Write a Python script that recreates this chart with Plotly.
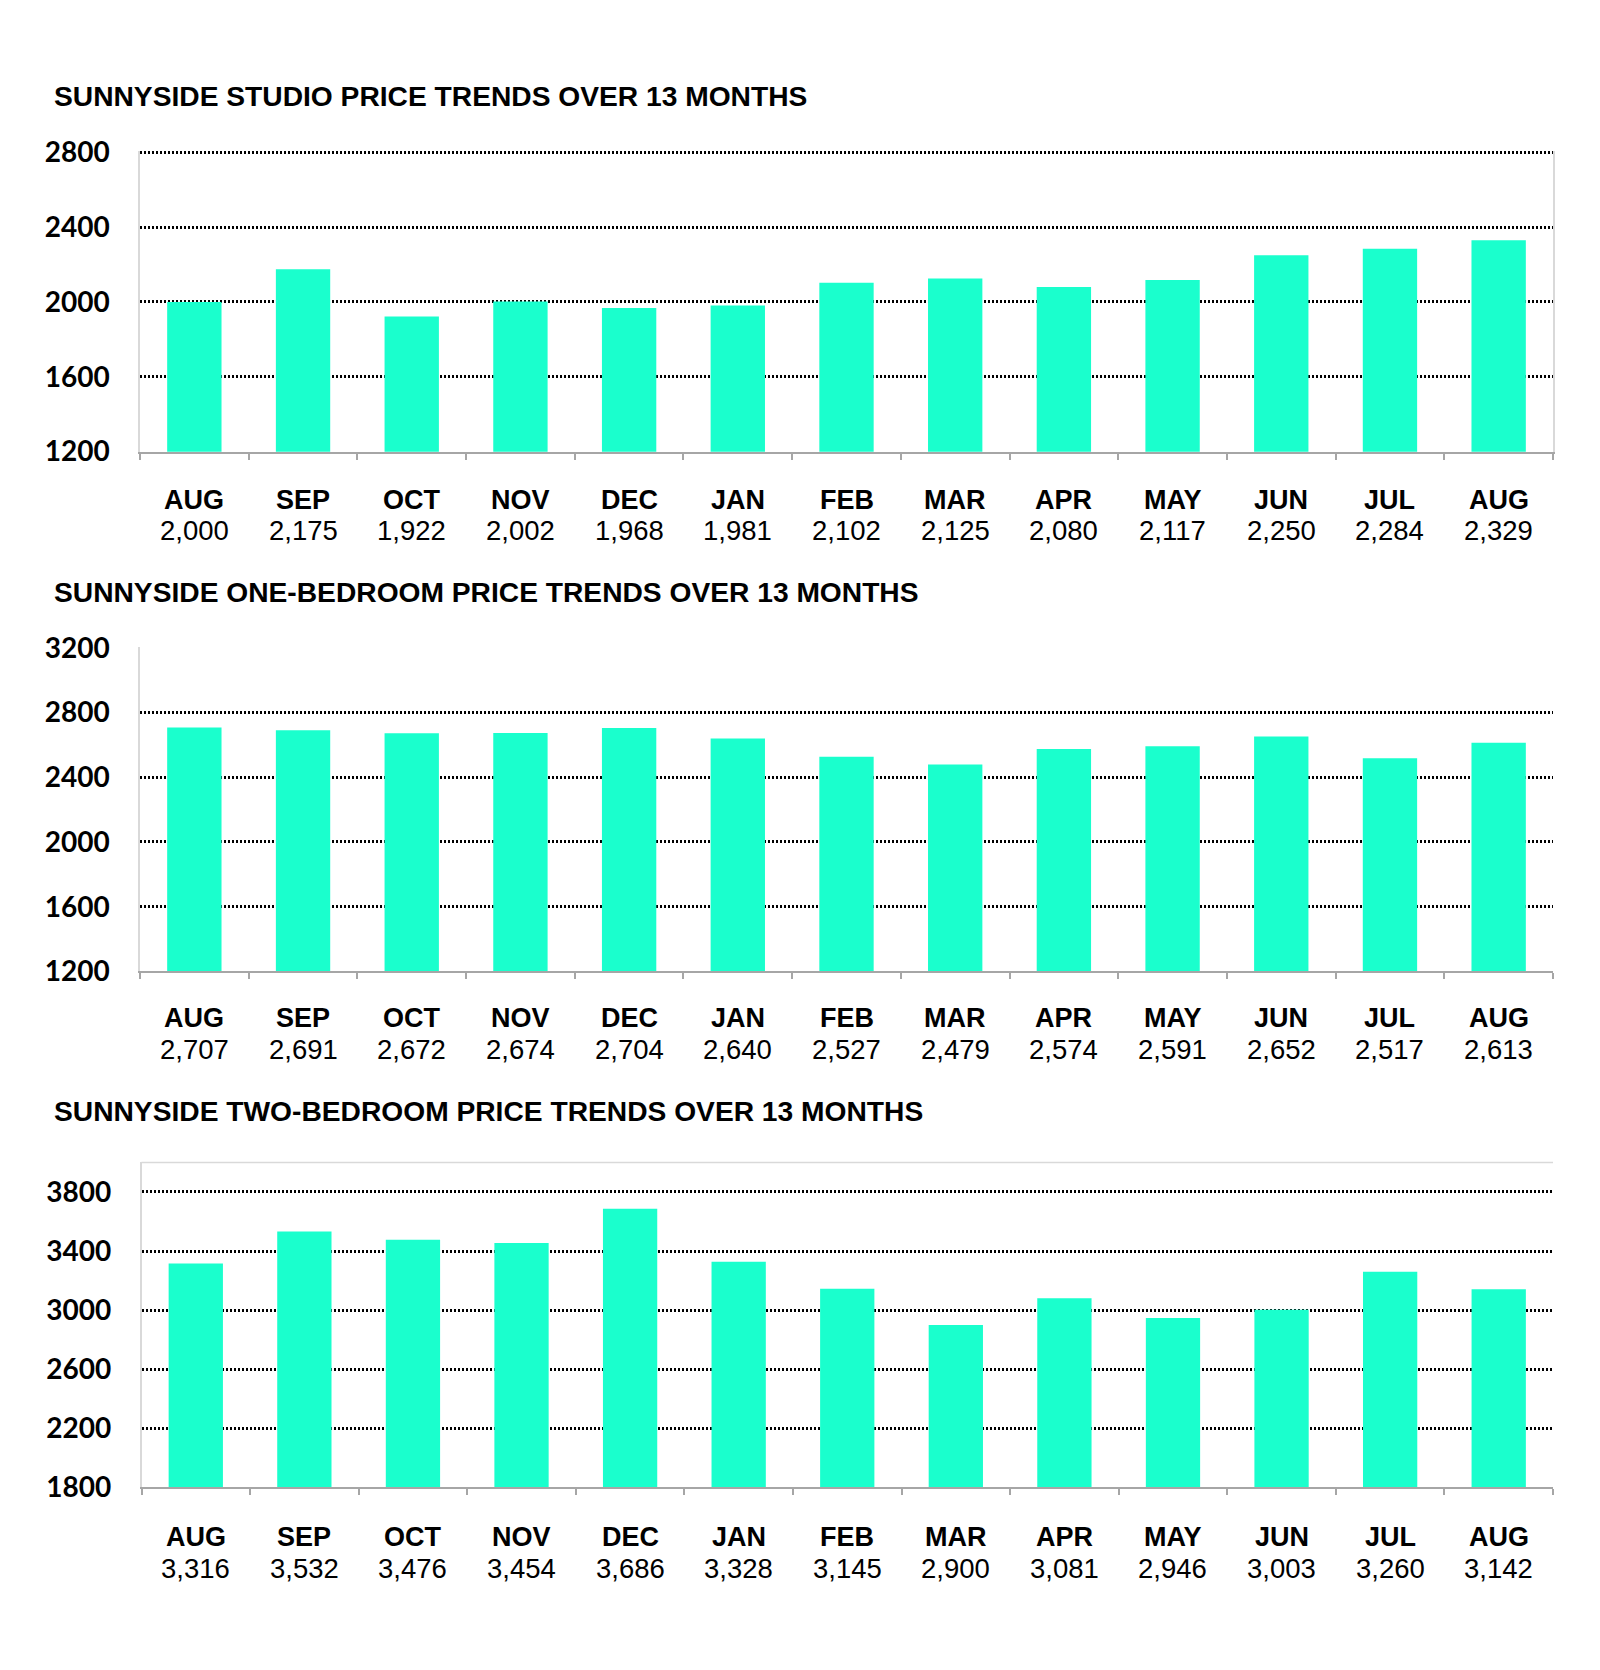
import plotly.graph_objects as go

months = ["AUG", "SEP", "OCT", "NOV", "DEC", "JAN", "FEB", "MAR", "APR", "MAY", "JUN", "JUL", "AUG"]
studio = [2000, 2175, 1922, 2002, 1968, 1981, 2102, 2125, 2080, 2117, 2250, 2284, 2329]
one_bed = [2707, 2691, 2672, 2674, 2704, 2640, 2527, 2479, 2574, 2591, 2652, 2517, 2613]
two_bed = [3316, 3532, 3476, 3454, 3686, 3328, 3145, 2900, 3081, 2946, 3003, 3260, 3142]
titles = [
    "SUNNYSIDE STUDIO PRICE TRENDS OVER 13 MONTHS",
    "SUNNYSIDE ONE-BEDROOM PRICE TRENDS OVER 13 MONTHS",
    "SUNNYSIDE TWO-BEDROOM PRICE TRENDS OVER 13 MONTHS",
]
y_ranges = [(1200, 2806), (1200, 3206), (1800, 4000)]
y_tick0 = [1200, 1200, 1800]

W, H = 1600, 1670
BAR = "#1AFFCD"
ARIAL = "Liberation Sans, Arial, sans-serif"
# plot area pixel boxes (left, top, right, bottom)
boxes = [(140, 136.8, 1553, 443.4), (140, 642.5, 1553, 973.7), (141.5, 1168.5, 1553, 1500)]
title_y = [81, 587.1, 1116.3]
label_off = [(48, 78.5), (47, 78.5), (50, 81.5)]

fig = go.Figure()
series = [studio, one_bed, two_bed]
xs = list(range(len(months)))
annotations = []
shapes = []
for i, (vals, title, yr, box, ty, lo) in enumerate(zip(series, titles, y_ranges, boxes, title_y, label_off)):
    n = "" if i == 0 else str(i + 1)
    xa, ya = "x" + n, "y" + n
    fig.add_trace(go.Bar(x=xs, y=vals, width=0.5, marker=dict(color=BAR, line=dict(width=0)),
                         xaxis=xa, yaxis=ya, showlegend=False, hoverinfo="y"))
    l, t, r, b = box
    fig.layout["xaxis" + n] = dict(
        domain=[l / W, r / W], range=[-0.5, len(months) - 0.5], anchor=ya,
        showgrid=False, zeroline=False, showticklabels=False,
        tickmode="array", tickvals=[k - 0.5 for k in range(len(months) + 1)],
        ticks="outside", ticklen=6, tickwidth=2, tickcolor="#A6A6A6",
        showline=True, linecolor="#A6A6A6", linewidth=2, fixedrange=True,
    )
    fig.layout["yaxis" + n] = dict(
        domain=[1 - b / H, 1 - t / H], range=list(yr), anchor=xa,
        tick0=y_tick0[i], dtick=400, showgrid=True, gridcolor="#000000", gridwidth=2.5,
        griddash="2px,2px", zeroline=False,
        showline=True, linecolor="#D9D9D9", linewidth=1.5, mirror=(i == 0),
        ticks="", ticklabelstandoff=23,
        tickfont=dict(family="Lato, sans-serif", size=28, color="#000000", weight="bold"),
        fixedrange=True,
    )
    if i == 2:
        shapes.append(dict(type="line", xref=xa + " domain", yref=ya + " domain",
                           x0=0, x1=1, y0=1, y1=1, line=dict(color="#D9D9D9", width=1.5)))
    annotations.append(dict(text=title, xref="paper", yref="paper", x=52 / W, y=1 - ty / H,
                            xanchor="left", yanchor="middle", showarrow=False,
                            font=dict(family=ARIAL, size=28.2, color="#000000", weight="bold")))
    for k, (m, v) in enumerate(zip(months, vals)):
        annotations.append(dict(text=m, xref=xa, yref=ya + " domain", x=k, y=0, yshift=-lo[0],
                                xanchor="center", yanchor="middle", showarrow=False,
                                font=dict(family=ARIAL, size=27, color="#000000", weight="bold")))
        annotations.append(dict(text=f"{v:,}", xref=xa, yref=ya + " domain", x=k, y=0, yshift=-lo[1],
                                xanchor="center", yanchor="middle", showarrow=False,
                                font=dict(family=ARIAL, size=27.5, color="#000000")))

fig.update_layout(
    width=W, height=H, margin=dict(l=0, r=0, t=0, b=0),
    paper_bgcolor="#FFFFFF", plot_bgcolor="#FFFFFF",
    annotations=annotations, shapes=shapes, bargap=0.5,
)
fig.write_html("out.html", config={"displayModeBar": False},
               post_script="document.body.style.margin='0px';")
